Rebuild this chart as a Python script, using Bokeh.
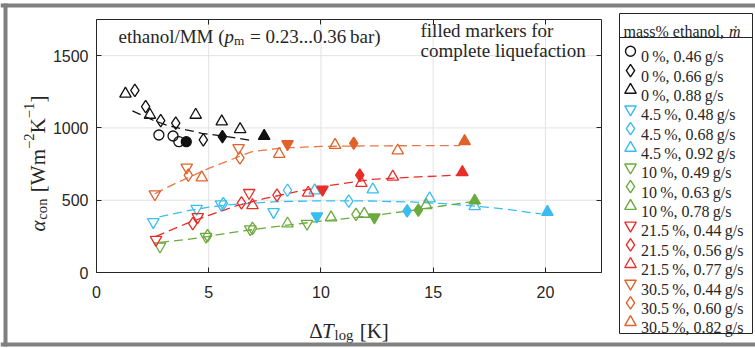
import math
from bokeh.plotting import figure
from bokeh.models import Range1d, LinearAxis, FixedTicker, ColumnDataSource
from bokeh.embed import file_html
from bokeh.resources import INLINE
from bokeh.core.properties import value

# ---------------- data ----------------
x_ticks = [0, 5, 10, 15, 20]
y_ticks = [0, 500, 1000, 1500]

# 0 % ethanol
dT_00_046 = [2.78, 3.41, 3.67, 4.00]
al_00_046 = [951, 944, 905, 905]
fu_00_046 = [0, 0, 0, 1]
dT_00_066 = [1.71, 2.19, 2.86, 3.53, 4.76, 5.61]
al_00_066 = [1259, 1148, 1051, 1033, 917, 940]
fu_00_066 = [0, 0, 0, 0, 0, 1]
dT_00_088 = [1.29, 2.38, 4.42, 5.58, 6.40, 7.47]
al_00_088 = [1236, 1090, 1090, 1044, 991, 944]
fu_00_088 = [0, 0, 0, 0, 0, 1]
fit_dT_00 = [1.6, 2.5, 3.2, 4.0, 4.7, 5.9, 6.95]
fit_al_00 = [1118, 1055, 1015, 987, 963, 938, 912]

# 4.5 % ethanol
dT_045_048 = [2.53, 4.46, 5.55, 7.89, 9.82]
al_045_048 = [349, 442, 472, 419, 389]
fu_045_048 = [0, 0, 0, 0, 1]
dT_045_068 = [5.65, 8.51, 11.24, 13.84]
al_045_068 = [477, 569, 494, 426]
fu_045_068 = [0, 0, 0, 1]
dT_045_092 = [9.72, 12.31, 14.84, 16.85, 20.09]
al_045_092 = [567, 574, 512, 458, 419]
fu_045_092 = [0, 0, 0, 0, 1]
fit_dT_045 = [2.8, 4.0, 5.0, 6.0, 8.0, 10.0, 12.0, 14.0, 15.3, 17.1, 18.3, 19.8]
fit_al_045 = [385, 425, 452, 470, 490, 496, 495, 488, 478, 456, 437, 405]

# 10 % ethanol
dT_10_049 = [2.83, 4.88, 6.85, 9.38, 12.38]
al_10_049 = [181, 248, 300, 338, 382]
fu_10_049 = [0, 0, 0, 0, 1]
dT_10_063 = [4.95, 6.95, 11.56, 14.34]
al_10_063 = [255, 305, 402, 431]
fu_10_063 = [0, 0, 0, 1]
dT_10_078 = [8.51, 10.45, 11.93, 14.69, 16.85]
al_10_078 = [338, 380, 405, 465, 497]
fu_10_078 = [0, 0, 0, 0, 1]
fit_dT_10 = [2.83, 4.0, 5.0, 6.0, 8.0, 10.0, 12.0, 14.0, 15.4, 16.8]
fit_al_10 = [208, 228, 250, 276, 318, 355, 388, 428, 460, 492]

# 21.5 % ethanol
dT_215_044 = [2.65, 4.51, 6.80, 10.07]
al_215_044 = [227, 384, 551, 574]
fu_215_044 = [0, 0, 0, 1]
dT_215_056 = [4.29, 6.46, 8.04, 11.73]
al_215_056 = [338, 481, 535, 674]
fu_215_056 = [0, 0, 0, 1]
dT_215_077 = [6.95, 9.43, 11.80, 13.20, 16.30]
al_215_077 = [465, 551, 618, 662, 693]
fu_215_077 = [0, 0, 0, 0, 1]
fit_dT_215 = [2.65, 4.0, 5.0, 6.25, 7.5, 9.0, 10.5, 12.2, 13.5, 16.1]
fit_al_215 = [250, 338, 395, 462, 512, 562, 605, 643, 655, 674]

# 30.5 % ethanol
dT_305_044 = [2.60, 4.02, 6.33, 8.51]
al_305_044 = [542, 727, 862, 889]
fu_305_044 = [0, 0, 0, 1]
dT_305_060 = [4.09, 6.39, 11.46]
al_305_060 = [674, 793, 894]
fu_305_060 = [0, 0, 1]
dT_305_082 = [4.69, 8.14, 10.63, 13.42, 16.40]
al_305_082 = [657, 819, 882, 843, 908]
fu_305_082 = [0, 0, 0, 0, 1]
fit_dT_305 = [2.6, 3.5, 5.0, 6.9, 8.2, 10.0, 12.0, 16.2]
fit_al_305 = [545, 615, 720, 835, 860, 872, 876, 878]

TS = "\u2009"  # thin space
legend_labels = [
    f"0{TS}%, 0.46{TS}g/s", f"0{TS}%, 0.66{TS}g/s", f"0{TS}%, 0.88{TS}g/s",
    f"4.5{TS}%, 0.48{TS}g/s", f"4.5{TS}%, 0.68{TS}g/s", f"4.5{TS}%, 0.92{TS}g/s",
    f"10{TS}%, 0.49{TS}g/s", f"10{TS}%, 0.63{TS}g/s", f"10{TS}%, 0.78{TS}g/s",
    f"21.5{TS}%, 0.44{TS}g/s", f"21.5{TS}%, 0.56{TS}g/s", f"21.5{TS}%, 0.77{TS}g/s",
    f"30.5{TS}%, 0.44{TS}g/s", f"30.5{TS}%, 0.60{TS}g/s", f"30.5{TS}%, 0.82{TS}g/s",
]

# ---------------- styles ----------------
C_BLACK, C_CYAN, C_GREEN, C_RED, C_ORANGE = "#111111", "#38BDF0", "#6BAA3C", "#EB2D28", "#E0622A"
TXT = "#262626"
GRID = "#e2e2e2"
SERIF, SANS = "Liberation Serif", "Liberation Sans"
MK_SIZE = {"circle": 10, "diamond": 12.5, "triangle": 11.5, "inverted_triangle": 11.5}

series = [
    (C_BLACK, "circle", dT_00_046, al_00_046, fu_00_046),
    (C_BLACK, "diamond", dT_00_066, al_00_066, fu_00_066),
    (C_BLACK, "triangle", dT_00_088, al_00_088, fu_00_088),
    (C_CYAN, "inverted_triangle", dT_045_048, al_045_048, fu_045_048),
    (C_CYAN, "diamond", dT_045_068, al_045_068, fu_045_068),
    (C_CYAN, "triangle", dT_045_092, al_045_092, fu_045_092),
    (C_GREEN, "inverted_triangle", dT_10_049, al_10_049, fu_10_049),
    (C_GREEN, "diamond", dT_10_063, al_10_063, fu_10_063),
    (C_GREEN, "triangle", dT_10_078, al_10_078, fu_10_078),
    (C_RED, "inverted_triangle", dT_215_044, al_215_044, fu_215_044),
    (C_RED, "diamond", dT_215_056, al_215_056, fu_215_056),
    (C_RED, "triangle", dT_215_077, al_215_077, fu_215_077),
    (C_ORANGE, "inverted_triangle", dT_305_044, al_305_044, fu_305_044),
    (C_ORANGE, "diamond", dT_305_060, al_305_060, fu_305_060),
    (C_ORANGE, "triangle", dT_305_082, al_305_082, fu_305_082),
]
fits = [
    (C_BLACK, fit_dT_00, fit_al_00, 1.0),
    (C_CYAN, fit_dT_045, fit_al_045, 1.0),
    (C_GREEN, fit_dT_10, fit_al_10, 1.0),
    (C_RED, fit_dT_215, fit_al_215, 1.0),
    (C_ORANGE, fit_dT_305, fit_al_305, 0.85),
]

# ---------------- geometry (window pixels) ----------------
W, H = 755, 348
FX0, FX1, FY0, FY1 = 96, 601, 19, 272   # plot-area edges in the window
XMIN, XMAX, YMIN, YMAX = 0, 22.5, 0, 1750
KX = (XMAX - XMIN) / (FX1 - FX0)
KY = (YMAX - YMIN) / (FY1 - FY0)

# one canvas: default ranges are window pixels (y up from the bottom); data use extra ranges
p = figure(width=W, height=H, x_range=Range1d(0, W), y_range=Range1d(0, H),
           output_backend="svg", toolbar_location=None, min_border=0, title=None,
           x_axis_location=None, y_axis_location=None)
p.grid.visible = False
p.outline_line_color = None
p.background_fill_color = "white"
p.border_fill_color = "white"
p.extra_x_ranges = {"dx": Range1d(XMIN + (0 - FX0) * KX, XMIN + (W - FX0) * KX)}
p.extra_y_ranges = {"dy": Range1d(YMIN + (FY1 - H) * KY, YMIN + FY1 * KY)}
D = dict(x_range_name="dx", y_range_name="dy")

# grid lines at the tick values
p.segment(x0=x_ticks[1:], y0=[YMIN] * 4, x1=x_ticks[1:], y1=[YMAX] * 4, line_color=GRID, line_width=1, **D)
p.segment(x0=[XMIN] * 3, y0=y_ticks[1:], x1=[XMAX] * 3, y1=y_ticks[1:], line_color=GRID, line_width=1, **D)


def make_axis(ticks, bounds, loc, labels=True, standoff=0):
    ax = LinearAxis(ticker=FixedTicker(ticks=ticks), bounds=bounds, fixed_location=loc,
                    axis_line_color=TXT, major_tick_line_color=TXT, major_tick_in=5, major_tick_out=0,
                    minor_tick_line_color=None, major_label_standoff=standoff,
                    major_label_text_font=SANS, major_label_text_color=TXT,
                    major_label_text_font_size="16px" if labels else "0px", **D)
    if not labels:
        ax.major_label_overrides = {t: "" for t in ticks}
    return ax


p.add_layout(make_axis(x_ticks, (XMIN, XMAX), YMIN, True, 13), "below")
p.add_layout(make_axis(y_ticks, (YMIN, YMAX), XMIN, True, 8), "left")
p.add_layout(make_axis(x_ticks, (XMIN, XMAX), YMAX, False), "above")
p.add_layout(make_axis(y_ticks, (YMIN, YMAX), XMAX, False), "right")

for c, xs, ys, alpha in fits:
    p.line(xs, ys, line_color=c, line_width=1.3, line_dash="9 5", line_alpha=alpha, **D)

for c, mk, xs, ys, fl in series:
    src = ColumnDataSource(dict(x=xs, y=ys, fa=[1.0 if f else 0.0 for f in fl]))
    p.scatter("x", "y", source=src, marker=mk, size=MK_SIZE[mk], line_color=c,
              fill_color=c, fill_alpha="fa", line_width=1.3, **D)


# ---------------- texts (window pixel positions) ----------------
def txt(wx, wy, s, size, style="normal", angle=0.0, align="left"):
    p.text(x=[wx], y=[H - wy], text=[s], angle=angle, text_font=value(SERIF),
           text_font_size=value(f"{size:.1f}px"), text_font_style=value(style),
           text_color=TXT, text_baseline="alphabetic", text_align=align)


def compose(pieces, F, wx, wy, vertical=False, centre=True):
    """pieces: (text, size factor, style, advance in em, baseline shift in em)."""
    total = sum(em * sf * F for _, sf, _, em, _ in pieces)
    if vertical:
        pos = wy + total / 2 if centre else wy
    else:
        pos = wx - total / 2 if centre else wx
    for s, sf, st, em, sh in pieces:
        if s:
            if vertical:
                txt(wx + sh * F, pos, s, sf * F, st, math.pi / 2)
            else:
                txt(pos, wy + sh * F, s, sf * F, st)
        pos = pos - em * sf * F if vertical else pos + em * sf * F


F_AX = 21
compose([("α", 1, "italic", 0.56, 0), ("con", 0.7, "normal", 1.444, 0.22), ("", 1, "normal", 0.3, 0),
         ("[Wm", 1, "normal", 2.055, 0), ("−2", 0.7, "normal", 1.064, -0.42),
         ("K", 1, "normal", 0.722, 0), ("−1", 0.7, "normal", 1.064, -0.42),
         ("]", 1, "normal", 0.333, 0)], F_AX, 37, 163, vertical=True)
compose([("Δ", 1, "normal", 0.612, 0), ("T", 1, "italic", 0.6, 0),
         ("log", 0.7, "normal", 1.278, 0.22), ("", 1, "normal", 0.3, 0),
         ("[K]", 1, "normal", 1.388, 0)], F_AX, (FX0 + FX1) / 2, 330)

F_TX = 19
compose([("ethanol/MM (", 1, "normal", 5.581, 0), ("p", 1, "italic", 0.5, 0),
         ("m", 0.7, "normal", 0.778, 0.2), ("", 1, "normal", 0.3, 0),
         (f"= 0.23...0.36{TS}bar)", 1, "normal", 7.1, 0)], F_TX, 118, 36, centre=False)
txt(420, 30, "filled markers for", F_TX)
txt(420, 50, "complete liquefaction", F_TX)

# ---------------- legend ----------------
BOX_L, BOX_R, BOX_T, BOX_B, SEP = 619, 752, 13, 333, 37
p.quad(left=[BOX_L], right=[BOX_R], top=[H - BOX_T], bottom=[H - BOX_B], fill_color="white",
       line_color=TXT, line_width=1)
p.segment(x0=[BOX_L], y0=[H - SEP], x1=[BOX_R], y1=[H - SEP], line_color=TXT, line_width=1)
F_HD, F_LG = 16, 16
txt(623, 31, "mass% ethanol,", F_HD)
txt(623 + 6.6 * F_HD, 31, "ṁ", F_HD, "italic")

L_FIRST, L_PITCH = 50.7, 19.36
for i, ((c, mk, _, _, _), lab) in enumerate(zip(series, legend_labels)):
    wy = L_FIRST + i * L_PITCH
    p.scatter([630], [H - wy], marker=mk, size=MK_SIZE[mk], line_color=c, fill_color=None, line_width=1.4)
    txt(640.5, wy + 5.5, lab, F_LG)

# ---------------- grey outer border ----------------
GREY = "#808080"
p.quad(left=[0, 3, 0], right=[W, 7, W], top=[H - 3, H - 3, H - 342], bottom=[H - 7, H - 346, H - 346],
       fill_color=GREY, line_color=None)

with open("out.html", "w") as f:
    f.write(file_html(p, INLINE))
